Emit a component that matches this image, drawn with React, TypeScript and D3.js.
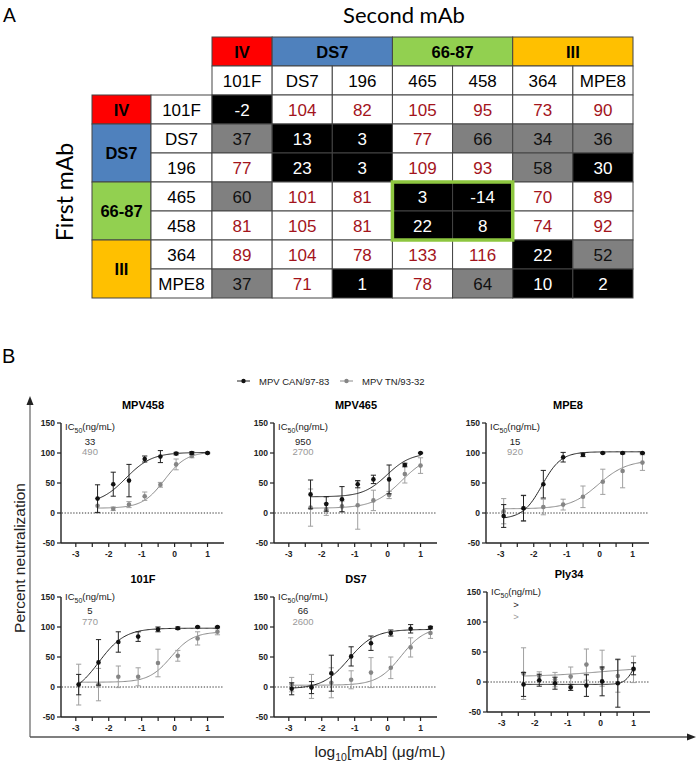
import React from "react";
import * as d3 from "d3";

// ---------------- Panel A data ----------------
const groupNames = ["IV", "DS7", "66-87", "III"];
const groupSpans = [1, 2, 2, 2];
const groupColors = ["#FF0000", "#4F81BD", "#92D050", "#FFC000"];
const mAbNames = ["101F", "DS7", "196", "465", "458", "364", "MPE8"];
const competition = [
  [-2, 104, 82, 105, 95, 73, 90],
  [37, 13, 3, 77, 66, 34, 36],
  [77, 23, 3, 109, 93, 58, 30],
  [60, 101, 81, 3, -14, 70, 89],
  [81, 105, 81, 22, 8, 74, 92],
  [89, 104, 78, 133, 116, 22, 52],
  [37, 71, 1, 78, 64, 10, 2],
];
const boxedRows = [3, 4];
const boxedCols = [3, 4];

// ---------------- Panel B data ----------------
const seriesNames = ["MPV CAN/97-83", "MPV TN/93-32"];
const panelTitles = ["MPV458", "MPV465", "MPE8", "101F", "DS7", "Ply34"];
const ic50Can = ["33", "950", "15", "5", "66", ">"];
const ic50Tn = ["490", "2700", "920", "770", "2600", ">"];
const dose3fold = [-2.34, -1.863, -1.385, -0.908, -0.431, 0.046, 0.523, 1.0];
const dose4fold = [-2.913, -2.311, -1.709, -1.107, -0.505, 0.097, 0.699, 1.301];
const panelDoseSet = [0, 0, 1, 1, 1, 0];

const canMean = [
  [24, 48, 54, 90, 94, 99, 100, 100],
  [31, 15, 23, 48, 56, 56, 80, 100],
  [-5, 8, 48, 93, 97, 100, 100, 100],
  [4, 41, 75, 84, 96, 98, 100, 100],
  [-3, -1, 23, 51, 73, 90, 97, 99],
  [-4, 3, -2, -9, -6, 1, -2, 22],
];
const canErr = [
  [23, 20, 27, 5, 10, 2, 2, 1],
  [24, 12, 21, 6, 7, 24, 3, 1],
  [19, 21, 23, 8, 3, 1, 1, 1],
  [17, 38, 17, 8, 4, 2, 1, 1],
  [10, 10, 30, 16, 12, 5, 7, 2],
  [20, 10, 10, 5, 18, 24, 40, 10],
];
const tnMean = [
  [12, 7, 14, 28, 47, 81, 95, 100],
  [9, 6, 11, 13, 21, 30, 65, 79],
  [3, 8, 10, 14, 27, 52, 70, 84],
  [4, 4, 17, 17, 40, 52, 81, 92],
  [4, 1, 7, 12, 24, 32, 66, 90],
  [14, 10, 4, 9, 29, 23, 10, 21],
];
const tnErr = [
  [12, 3, 5, 7, 4, 9, 3, 1],
  [31, 10, 9, 40, 17, 6, 15, 13],
  [21, 22, 13, 9, 18, 21, 28, 13],
  [34, 27, 18, 15, 23, 9, 11, 5],
  [12, 20, 25, 15, 25, 18, 16, 9],
  [43, 7, 12, 16, 26, 30, 27, 22],
];
// 4-parameter logistic fits: [bottom, top, logIC50, hill]
const canFit = [
  [15, 101, -1.48, 1.1],
  [27, 100, -0.02, 1.2],
  [-10, 102, -1.75, 1.5],
  [-15, 98, -2.3, 1.1],
  [-3, 96, -1.18, 1.1],
  [-4, 60, 1.05, 3],
];
const tnFit = [
  [8, 102, -0.31, 1.3],
  [8, 100, 0.43, 1.0],
  [7, 88, -0.04, 1.0],
  [8, 92, -0.11, 1.3],
  [3, 100, 0.41, 1.2],
  [9, 25, 0, 0.5],
];
const yTicks = [-50, 0, 50, 100, 150];
const xTickLabels = [-3, -2, -1, 0, 1];
const xMinorTicks = [-3, -2.5, -2, -1.5, -1, -0.5, 0, 0.5, 1];

// ---------------- layout ----------------
const panelLeft = [61, 274, 486, 61, 274, 487];
const panelTop = [423, 423, 423, 597, 597, 592];
const icOffsets = [
  [7, 22, 32],
  [7, 22, 32],
  [7, 22, 32],
  [3, 17, 28],
  [3, 17, 28],
  [3, 16, 28],
];

const ARIAL = "'Liberation Sans', Arial, sans-serif";
const HUMAN = "Lato, 'Open Sans', sans-serif";
const RED_TXT = "#A3141C";
const BLACK_S = "#111";
const GRAY_S = "#858585";
const GRAY_E = "#a0a0a0";

function fourPL(p: number[], x: number) {
  const [b, t, c, h] = p;
  return b + (t - b) / (1 + Math.pow(10, (c - x) * h));
}

function cellFill(v: number) {
  if (v <= 30) return "#000";
  if (v < 70) return "#808080";
  return "#fff";
}
function cellText(v: number) {
  if (v <= 30) return "#fff";
  if (v < 70) return "#111";
  return RED_TXT;
}

function Table() {
  const colX = d3.scaleBand<number>().domain(d3.range(7)).range([212, 633]);
  const rowY = d3.scaleBand<number>().domain(d3.range(7)).range([95, 298]);
  const bw = colX.bandwidth();
  const bh = rowY.bandwidth();
  const headTop = 37;
  const nameTop = 66;
  const labelX0 = 92;
  const nameX0 = 151;
  const starts = groupSpans.map((_, i) => d3.sum(groupSpans.slice(0, i)));
  const lineC = "#444";
  return (
    <g fontFamily={ARIAL}>
      {/* column group headers */}
      {groupNames.map((g, i) => (
        <g key={"cg" + i}>
          <rect x={colX(starts[i])} y={headTop} width={bw * groupSpans[i]} height={nameTop - headTop}
            fill={groupColors[i]} stroke={lineC} strokeWidth={1} />
          <text x={colX(starts[i])! + (bw * groupSpans[i]) / 2} y={(headTop + nameTop) / 2 + 6}
            textAnchor="middle" fontWeight="bold" fontSize={16.5} fill="#000">{g}</text>
        </g>
      ))}
      {/* column names */}
      {mAbNames.map((m, j) => (
        <g key={"cn" + j}>
          <rect x={colX(j)} y={nameTop} width={bw} height={95 - nameTop} fill="#fff" stroke={lineC} />
          <text x={colX(j)! + bw / 2} y={nameTop + (95 - nameTop) / 2 + 6} textAnchor="middle" fontSize={17}>{m}</text>
        </g>
      ))}
      {/* row group labels */}
      {groupNames.map((g, i) => (
        <g key={"rg" + i}>
          <rect x={labelX0} y={rowY(starts[i])} width={nameX0 - labelX0} height={bh * groupSpans[i]}
            fill={groupColors[i]} stroke={lineC} />
          <text x={(labelX0 + nameX0) / 2} y={rowY(starts[i])! + (bh * groupSpans[i]) / 2 + 6}
            textAnchor="middle" fontWeight="bold" fontSize={16.5}>{g}</text>
        </g>
      ))}
      {/* row names */}
      {mAbNames.map((m, r) => (
        <g key={"rn" + r}>
          <rect x={nameX0} y={rowY(r)} width={212 - nameX0} height={bh} fill="#fff" stroke={lineC} />
          <text x={(nameX0 + 212) / 2} y={rowY(r)! + bh / 2 + 6} textAnchor="middle" fontSize={17}>{m}</text>
        </g>
      ))}
      {/* cells */}
      {competition.map((row, r) =>
        row.map((v, c) => (
          <g key={"c" + r + "-" + c}>
            <rect x={colX(c)} y={rowY(r)} width={bw} height={bh} fill={cellFill(v)} stroke={lineC} />
            <text x={colX(c)! + bw / 2} y={rowY(r)! + bh / 2 + 6} textAnchor="middle" fontSize={17}
              fill={cellText(v)}>{v}</text>
          </g>
        ))
      )}
      <rect x={colX(boxedCols[0])} y={rowY(boxedRows[0])} width={bw * boxedCols.length}
        height={bh * boxedRows.length} fill="none" stroke="#8DC63F" strokeWidth={3.5} />
    </g>
  );
}

function Panel({ i }: { i: number }) {
  const left = panelLeft[i];
  const top = panelTop[i];
  const w = 163;
  const h = 120;
  const x = d3.scaleLinear().domain([-3.45, 1.5]).range([left, left + w]);
  const y = d3.scaleLinear().domain([-50, 150]).range([top + h, top]);
  const doses = panelDoseSet[i] === 0 ? dose3fold : dose4fold;
  const xs = d3.range(0, 121).map((k) => doses[0] + ((doses[doses.length - 1] - doses[0]) * k) / 120);
  const line = d3.line<number>().x((d) => x(d)).y((d) => y(0));
  const canLine = d3.line<number>().x((d) => x(d)).y((d) => y(fourPL(canFit[i], d)));
  const tnLine = d3.line<number>().x((d) => x(d)).y((d) => y(fourPL(tnFit[i], d)));
  const icx = left + 4;
  const cap = 2.6;
  const series = [
    { mean: tnMean[i], err: tnErr[i], color: GRAY_S, ecol: GRAY_E, path: tnLine(xs), lcol: "#8a8a8a" },
    { mean: canMean[i], err: canErr[i], color: BLACK_S, ecol: "#222", path: canLine(xs), lcol: "#222" },
  ];
  return (
    <g fontFamily={ARIAL}>
      <text x={left + 82} y={top - 14} textAnchor="middle" fontWeight="bold" fontSize={11}>{panelTitles[i]}</text>
      {/* zero line */}
      <path d={line([x.domain()[0] + 0.02, x.domain()[1]])!} stroke="#333" strokeWidth={1} strokeDasharray="1.3,1.6" />
      {/* y axis */}
      <line x1={left} x2={left} y1={y(150)} y2={y(-50)} stroke="#222" strokeWidth={1.4} />
      {yTicks.map((t) => (
        <g key={"yt" + t}>
          <line x1={left - 4} x2={left} y1={y(t)} y2={y(t)} stroke="#222" strokeWidth={1.2} />
          <text x={left - 6} y={y(t) + 3} textAnchor="end" fontSize={8.5} fontWeight="bold" fill="#222">{t}</text>
        </g>
      ))}
      {/* x axis */}
      <line x1={left} x2={left + w} y1={y(-50)} y2={y(-50)} stroke="#222" strokeWidth={1.4} />
      {xMinorTicks.map((t) => (
        <line key={"xm" + t} x1={x(t)} x2={x(t)} y1={y(-50)} y2={y(-50) + 4} stroke="#222" strokeWidth={1.2} />
      ))}
      {xTickLabels.map((t) => (
        <text key={"xl" + t} x={x(t)} y={y(-50) + 14} textAnchor="middle" fontSize={8.5} fontWeight="bold" fill="#222">{t}</text>
      ))}
      {/* IC50 annotation */}
      <text x={icx} y={top + icOffsets[i][0]} fontSize={9.5} fill="#222">
        IC<tspan fontSize={7} dy={2.5}>50</tspan><tspan dy={-2.5}>(ng/mL)</tspan>
      </text>
      <text x={icx + 25} y={top + icOffsets[i][1]} fontSize={9.5} textAnchor="middle" fill="#222">{ic50Can[i]}</text>
      <text x={icx + 25} y={top + icOffsets[i][2]} fontSize={9.5} textAnchor="middle" fill="#999">{ic50Tn[i]}</text>
      {/* series */}
      {series.map((s, si) => (
        <g key={"s" + si}>
          <path d={s.path!} fill="none" stroke={s.lcol} strokeWidth={1} />
          {s.mean.map((m, k) => {
            const cx = x(doses[k]);
            const y1 = y(m + s.err[k]);
            const y2 = y(m - s.err[k]);
            return (
              <g key={"p" + k}>
                <line x1={cx} x2={cx} y1={y1} y2={y2} stroke={s.ecol} strokeWidth={1} />
                <line x1={cx - cap} x2={cx + cap} y1={y1} y2={y1} stroke={s.ecol} strokeWidth={1} />
                <line x1={cx - cap} x2={cx + cap} y1={y2} y2={y2} stroke={s.ecol} strokeWidth={1} />
                <circle cx={cx} cy={y(m)} r={2.3} fill={s.color} />
              </g>
            );
          })}
        </g>
      ))}
    </g>
  );
}

export default function App() {
  const legendX = [237, 340];
  return (
    <svg width={700} height={765} viewBox="0 0 700 765"
      style={{ position: "absolute", left: 0, top: 0, background: "#fff" }}>
      <rect width={700} height={765} fill="#fff" />
      {/* Panel A */}
      <text x={3} y={22} fontFamily={HUMAN} fontSize={19}>A</text>
      <text x={404} y={23} textAnchor="middle" fontFamily={HUMAN} fontSize={22}>Second mAb</text>
      <text transform="translate(73,192) rotate(-90)" textAnchor="middle" fontFamily={HUMAN} fontSize={23}>First mAb</text>
      <Table />

      {/* Panel B */}
      <text x={2} y={363} fontFamily={ARIAL} fontSize={20}>B</text>
      {seriesNames.map((n, k) => (
        <g key={"lg" + k}>
          <line x1={legendX[k]} x2={legendX[k] + 13} y1={381} y2={381} stroke={k === 0 ? "#222" : "#8a8a8a"} strokeWidth={1} />
          <circle cx={legendX[k] + 6.5} cy={381} r={2.2} fill={k === 0 ? BLACK_S : GRAY_S} />
          <text x={legendX[k] + 22} y={384.5} fontFamily={ARIAL} fontSize={9.5} fill="#222">{n}</text>
        </g>
      ))}
      {/* outer axes */}
      <line x1={30} x2={30} y1={404} y2={737} stroke="#8a8a8a" strokeWidth={1.6} />
      <line x1={30} x2={688} y1={737} y2={737} stroke="#555" strokeWidth={1.6} />
      <path d="M30,396 L26.5,405 L33.5,405 Z" fill="#222" />
      <path d="M696,737 L687,733.5 L687,740.5 Z" fill="#222" />
      <text transform="translate(25,558) rotate(-90)" textAnchor="middle" fontFamily={ARIAL} fontSize={15.5} fill="#222">Percent neutralization</text>
      <text x={380} y={757} textAnchor="middle" fontFamily={ARIAL} fontSize={15.5} fill="#222">
        log<tspan fontSize={10.5} dy={4}>10</tspan><tspan dy={-4}>[mAb] (μg/mL)</tspan>
      </text>
      {panelTitles.map((_, i) => (
        <Panel key={"pn" + i} i={i} />
      ))}
    </svg>
  );
}
